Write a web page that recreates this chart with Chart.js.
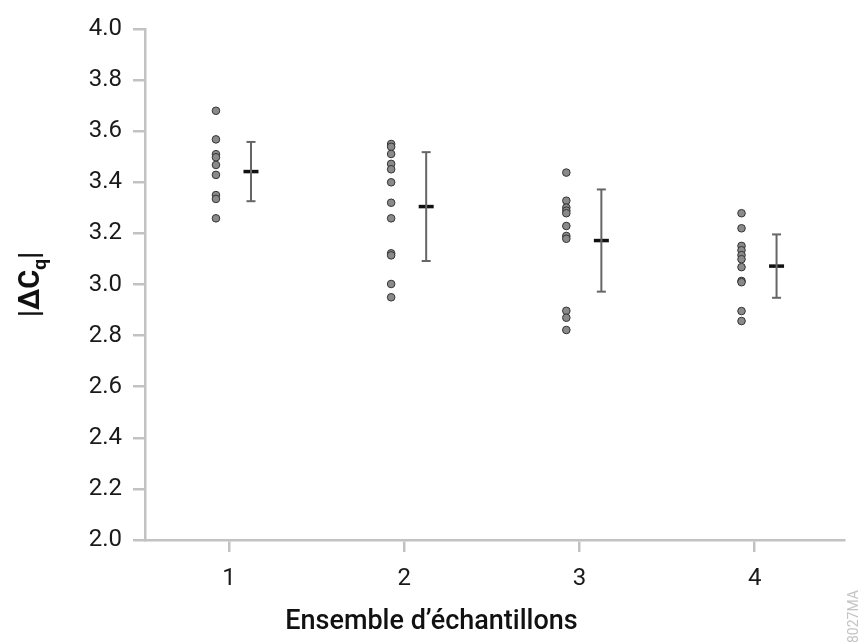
<!DOCTYPE html>
<html>
<head>
<meta charset="utf-8">
<script src="https://cdn.jsdelivr.net/npm/chart.js@4"></script>
<style>
    body { margin: 0; background: #fff; }
    #wrap { width: 863px; height: 642px; }
</style>
</head>
<body>
<div id="wrap"><canvas id="chart"></canvas></div>
<script>
// sample sets on the x axis
const sets = [1, 2, 3, 4];
const setLabels = ["1", "2", "3", "4"];

// |dCq| values measured in each set
const set1 = [3.68, 3.568, 3.51, 3.498, 3.468, 3.429, 3.35, 3.335, 3.259];
const set2 = [3.55, 3.539, 3.511, 3.472, 3.451, 3.40, 3.32, 3.259, 3.122, 3.114, 3.002, 2.95];
const set3 = [3.438, 3.328, 3.301, 3.289, 3.279, 3.229, 3.19, 3.179, 2.897, 2.87, 2.822];
const set4 = [3.279, 3.22, 3.151, 3.134, 3.115, 3.099, 3.068, 3.014, 3.009, 2.896, 2.857];

// mean and standard deviation per set
const means = [3.442, 3.305, 3.172, 3.072];
const stdDevs = [0.116, 0.213, 0.200, 0.124];

const yTicks = [2.0, 2.2, 2.4, 2.6, 2.8, 3.0, 3.2, 3.4, 3.6, 3.8, 4.0];

const axisGrey = "#c2c2c2";
const dotShift = -0.075;
const barShift = 0.125;

const allSets = [set1, set2, set3, set4];

const datasets = [];

allSets.forEach((values, i) => {
    datasets.push({
        type: "scatter",
        data: values.map(v => ({ x: sets[i] + dotShift, y: v })),
        backgroundColor: "#8a8a8a",
        borderColor: "#333",
        borderWidth: 1,
        pointRadius: 3.8,
        pointHoverRadius: 3.8
    });
});

// error bars: vertical line with flat caps
sets.forEach((s, i) => {
    datasets.push({
        type: "line",
        data: [
            { x: s + barShift, y: means[i] - stdDevs[i] },
            { x: s + barShift, y: means[i] + stdDevs[i] }
        ],
        borderColor: "#666",
        borderWidth: 2,
        pointStyle: "line",
        pointRadius: 4.5,
        pointBorderColor: "#666",
        pointBorderWidth: 2,
        fill: false
    });
});

// mean markers
datasets.push({
    type: "scatter",
    data: sets.map((s, i) => ({ x: s + barShift, y: means[i] })),
    pointStyle: "line",
    pointRadius: 7.5,
    borderColor: "#111",
    borderWidth: 3.5,
    pointHoverRadius: 7.5
});

const axisTitles = {
    id: "axisTitles",
    afterDraw(chart) {
        const ctx = chart.ctx;
        const area = chart.chartArea;
        ctx.save();
        ctx.fillStyle = "#111";

        // x title
        ctx.font = "500 27px Roboto";
        ctx.textAlign = "center";
        ctx.textBaseline = "alphabetic";
        ctx.fillText("Ensemble d\u2019\u00e9chantillons", chart.width / 2, 629);

        // y title, rotated, with subscript q
        ctx.translate(39, (area.top + area.bottom) / 2);
        ctx.rotate(-Math.PI / 2);
        const big = "bold 29px Roboto";
        const small = "bold 19px Roboto";
        ctx.font = big;
        const w1 = ctx.measureText("|\u0394C").width;
        const w3 = ctx.measureText("|").width;
        ctx.font = small;
        const w2 = ctx.measureText("q").width;
        let x = -(w1 + w2 + w3) / 2;
        ctx.textAlign = "left";
        ctx.font = big;
        ctx.fillText("|\u0394C", x, 0);
        x += w1;
        ctx.font = small;
        ctx.fillText("q", x, 7);
        x += w2;
        ctx.font = big;
        ctx.fillText("|", x, 0);
        ctx.restore();

        // figure id, bottom right
        ctx.save();
        ctx.translate(858, 643);
        ctx.rotate(-Math.PI / 2);
        ctx.font = "14px Roboto";
        ctx.fillStyle = "#c4c4c4";
        ctx.textAlign = "left";
        ctx.fillText("8027MA", 0, 0);
        ctx.restore();
    }
};

new Chart(document.getElementById("chart"), {
    data: { datasets },
    options: {
        responsive: true,
        maintainAspectRatio: false,
        animation: false,
        events: [],
        layout: {
            padding: { top: 29, right: 19, bottom: 0, left: 45 }
        },
        plugins: {
            legend: { display: false },
            tooltip: { enabled: false }
        },
        scales: {
            x: {
                type: "linear",
                min: 0.52,
                max: 4.51,
                afterBuildTicks: scale => {
                    scale.ticks = sets.map(v => ({ value: v }));
                },
                afterFit: scale => { scale.height = 102; },
                border: { color: axisGrey, width: 2.5 },
                grid: {
                    drawOnChartArea: false,
                    drawTicks: true,
                    tickLength: 12,
                    color: axisGrey,
                    lineWidth: 2.5
                },
                ticks: {
                    color: "#1a1a1a",
                    padding: 13,
                    font: { family: "Roboto", size: 24 },
                    callback: v => setLabels[sets.indexOf(v)]
                }
            },
            y: {
                type: "linear",
                min: 2.0,
                max: 4.0,
                afterBuildTicks: scale => {
                    scale.ticks = yTicks.map(v => ({ value: v }));
                },
                afterFit: scale => { scale.width = 100; },
                border: { color: axisGrey, width: 2.5 },
                grid: {
                    drawOnChartArea: false,
                    drawTicks: true,
                    tickLength: 12,
                    color: axisGrey,
                    lineWidth: 2.5
                },
                ticks: {
                    color: "#1a1a1a",
                    padding: 11,
                    font: { family: "Roboto", size: 24 },
                    callback: v => v.toFixed(1)
                }
            }
        }
    },
    plugins: [axisTitles]
});
</script>
</body>
</html>
